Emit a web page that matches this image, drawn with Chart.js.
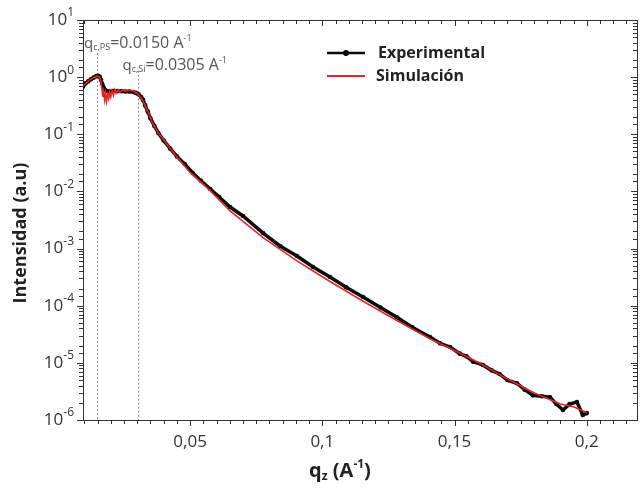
<!DOCTYPE html>
<html>
<head>
<meta charset="utf-8">
<script src="https://cdn.jsdelivr.net/npm/chart.js@4/dist/chart.umd.min.js"></script>
<style>
  html, body { margin: 0; padding: 0; background: #fff; }
  #wrap { width: 641px; height: 491px; }
</style>
</head>
<body>
<div id="wrap"><canvas id="chart" width="641" height="491"></canvas></div>
<script>
// experimental curve (q in A^-1, intensity in a.u.)
const expQ = [0.0095, 0.0105, 0.0115, 0.0125, 0.0135, 0.0145, 0.0152, 0.0158, 0.0163, 0.0168,
  0.0173, 0.0178, 0.0185, 0.0195, 0.021, 0.0225, 0.024, 0.0255, 0.027, 0.0285,
  0.0295, 0.0305, 0.0315, 0.0322, 0.033, 0.034, 0.035, 0.0365, 0.038, 0.040,
  0.0425, 0.045, 0.048, 0.051, 0.054, 0.0576, 0.061, 0.0651, 0.070, 0.0776,
  0.084, 0.0904, 0.0965, 0.1029, 0.109, 0.1154, 0.122, 0.1282, 0.134, 0.1407,
  0.1445, 0.1483, 0.152, 0.1545, 0.157, 0.1607, 0.164, 0.167, 0.170, 0.1736,
  0.1765, 0.1796, 0.183, 0.1861, 0.1885, 0.191, 0.1935, 0.1963, 0.1985, 0.2];
const expI = [0.68, 0.78, 0.85, 0.92, 0.98, 1.04, 1.06, 1.02, 0.9, 0.76,
  0.66, 0.6, 0.57, 0.56, 0.57, 0.57, 0.565, 0.56, 0.56, 0.55,
  0.53, 0.5, 0.45, 0.40, 0.32, 0.25, 0.19, 0.14, 0.105, 0.078,
  0.056, 0.041, 0.03, 0.021, 0.0155, 0.0110, 7.98e-3, 5.33e-3, 3.72e-3, 1.87e-3,
  1.11e-3, 7.4e-4, 4.75e-4, 3.18e-4, 2.1e-4, 1.42e-4, 9.3e-5, 6.3e-5, 4.2e-5, 2.83e-5,
  2.2e-5, 1.89e-5, 1.45e-5, 1.3e-5, 1.05e-5, 9.2e-6, 7.4e-6, 6.4e-6, 5.0e-6, 4.4e-6,
  3.4e-6, 2.7e-6, 2.6e-6, 2.5e-6, 1.9e-6, 1.5e-6, 1.9e-6, 2.06e-6, 1.22e-6, 1.32e-6];

// simulated curve
const simQ = [0.0095, 0.0115, 0.0135, 0.015, 0.0158, 0.0163, 0.0167, 0.017, 0.0173, 0.0177,
  0.018, 0.0184, 0.0188, 0.0192, 0.0196, 0.02, 0.0205, 0.021, 0.0215, 0.022,
  0.0228, 0.0235, 0.0245, 0.0255, 0.027, 0.0285, 0.0298, 0.0307, 0.032, 0.034,
  0.036, 0.038, 0.041, 0.045, 0.05, 0.0576, 0.065, 0.0776, 0.0904, 0.1029,
  0.1154, 0.1282, 0.1407, 0.15, 0.16, 0.17, 0.18, 0.19, 0.195, 0.2];
const simI = [0.7, 0.86, 0.98, 1.05, 1.0, 0.85, 0.6, 0.45, 0.55, 0.4,
  0.52, 0.38, 0.5, 0.42, 0.55, 0.45, 0.58, 0.48, 0.6, 0.52,
  0.6, 0.54, 0.6, 0.57, 0.6, 0.57, 0.53, 0.48, 0.4, 0.25,
  0.15, 0.105, 0.07, 0.04, 0.0215, 0.0103, 4.6e-3, 1.55e-3, 6.1e-4, 2.65e-4,
  1.2e-4, 5.5e-5, 2.65e-5, 1.65e-5, 9.6e-6, 5.2e-6, 3.0e-6, 1.9e-6, 1.7e-6, 1.35e-6];

// critical edges
const qcPS = 0.0150;
const qcSi = 0.0305;

const xMin = 0.0095, xMax = 0.219;
const xMajorTicks = [0.05, 0.1, 0.15, 0.2];
const xTickLabels = ['0,05', '0,1', '0,15', '0,2'];
const yMajorTicks = [1e-6, 1e-5, 1e-4, 1e-3, 1e-2, 1e-1, 1, 10];
const yExpLabels = ['-6', '-5', '-4', '-3', '-2', '-1', '0', '1'];

const FONT = "'Open Sans', 'Noto Sans', sans-serif";
const expColor = '#0a0a0a';
const simColor = '#e3262c';

function toPoints(xs, ys) {
  return xs.map((x, i) => ({ x: x, y: ys[i] }));
}

// text with sub/superscripts
function drawRich(ctx, parts, x, y, align) {
  let w = 0;
  parts.forEach(p => { ctx.font = p.font; w += ctx.measureText(p.t).width; });
  let cx = align === 'right' ? x - w : align === 'center' ? x - w / 2 : x;
  ctx.textAlign = 'left';
  parts.forEach(p => {
    ctx.font = p.font;
    ctx.fillText(p.t, cx, y + (p.dy || 0));
    cx += ctx.measureText(p.t).width;
  });
}

const decorPlugin = {
  id: 'decor',
  afterDraw(chart) {
    const ctx = chart.ctx;
    const xs = chart.scales.x, ys = chart.scales.y;
    const a = chart.chartArea;
    ctx.save();

    // tick marks on all four sides
    ctx.strokeStyle = '#333';
    ctx.lineWidth = 1;
    ctx.beginPath();
    xs.ticks.forEach(t => {
      const px = Math.round(xs.getPixelForValue(t.value)) + 0.5;
      const major = xMajorTicks.some(m => Math.abs(m - t.value) < 1e-9);
      const len = major ? 6 : 4;
      ctx.moveTo(px, a.bottom); ctx.lineTo(px, a.bottom + len);
      ctx.moveTo(px, a.top); ctx.lineTo(px, a.top + len);
    });
    ys.ticks.forEach(t => {
      const py = Math.round(ys.getPixelForValue(t.value)) + 0.5;
      const major = yMajorTicks.some(m => Math.abs(Math.log10(m) - Math.log10(t.value)) < 1e-6);
      const len = major ? 6 : 4;
      ctx.moveTo(a.left - len, py); ctx.lineTo(a.left, py);
      ctx.moveTo(a.right - len, py); ctx.lineTo(a.right, py);
    });
    ctx.stroke();

    // y tick labels 10^n
    ctx.fillStyle = '#333';
    ctx.textBaseline = 'middle';
    yMajorTicks.forEach((v, i) => {
      const py = ys.getPixelForValue(v);
      drawRich(ctx, [
        { t: '10', font: '17px ' + FONT },
        { t: yExpLabels[i], font: '12px ' + FONT, dy: -7 }
      ], a.left - 9, py, 'right');
    });

    // y axis title
    ctx.save();
    ctx.translate(21, 233);
    ctx.rotate(-Math.PI / 2);
    ctx.fillStyle = '#222';
    ctx.textAlign = 'center';
    ctx.textBaseline = 'middle';
    ctx.font = 'bold 18px ' + FONT;
    ctx.fillText('Intensidad (a.u)', 0, 0);
    ctx.restore();

    // x axis title
    ctx.fillStyle = '#222';
    ctx.textBaseline = 'alphabetic';
    drawRich(ctx, [
      { t: 'q', font: 'bold 20px ' + FONT },
      { t: 'z', font: 'bold 12px ' + FONT, dy: 3 },
      { t: ' (A', font: 'bold 20px ' + FONT },
      { t: '-1', font: 'bold 12px ' + FONT, dy: -9 },
      { t: ')', font: 'bold 20px ' + FONT }
    ], 340, 477, 'center');

    // annotations for the critical edges
    ctx.fillStyle = '#555';
    drawRich(ctx, [
      { t: 'q', font: '15px ' + FONT },
      { t: 'c,PS', font: '9px ' + FONT, dy: 2 },
      { t: '=0.0150 A', font: '16px ' + FONT },
      { t: '-1', font: '9px ' + FONT, dy: -7 }
    ], a.left + 1, a.top + 28, 'left');
    drawRich(ctx, [
      { t: 'q', font: '15px ' + FONT },
      { t: 'c,Si', font: '9px ' + FONT, dy: 2 },
      { t: '=0.0305 A', font: '16px ' + FONT },
      { t: '-1', font: '9px ' + FONT, dy: -7 }
    ], xs.getPixelForValue(qcSi) - 16, a.top + 50, 'left');

    // legend
    const lx = 327, lw = 38;
    const ly1 = 53, ly2 = 76;
    ctx.strokeStyle = expColor; ctx.lineWidth = 2.5;
    ctx.beginPath(); ctx.moveTo(lx, ly1); ctx.lineTo(lx + lw, ly1); ctx.stroke();
    ctx.fillStyle = expColor;
    ctx.beginPath(); ctx.arc(lx + lw / 2, ly1, 3, 0, Math.PI * 2); ctx.fill();
    ctx.strokeStyle = simColor; ctx.lineWidth = 2;
    ctx.beginPath(); ctx.moveTo(lx, ly2); ctx.lineTo(lx + lw, ly2); ctx.stroke();
    ctx.fillStyle = '#222';
    ctx.textBaseline = 'middle';
    ctx.font = 'bold 16px ' + FONT;
    ctx.fillText('Experimental', lx + lw + 13, ly1);
    ctx.fillText('Simulación', lx + lw + 11, ly2);

    ctx.restore();
  }
};

new Chart(document.getElementById('chart'), {
  type: 'scatter',
  data: {
    datasets: [
      {
        label: 'Simulación',
        data: toPoints(simQ, simI),
        showLine: true,
        borderColor: simColor,
        borderWidth: 1.6,
        pointRadius: 0,
        order: 1
      },
      {
        label: 'Experimental',
        data: toPoints(expQ, expI),
        showLine: true,
        borderColor: expColor,
        borderWidth: 3.5,
        pointRadius: 2.3,
        pointBorderWidth: 0,
        pointBackgroundColor: expColor,
        order: 2
      },
      {
        label: 'qcPS',
        data: [{ x: qcPS, y: 2.65 }, { x: qcPS, y: 1e-6 }],
        showLine: true,
        borderColor: '#888',
        borderWidth: 1,
        borderDash: [2, 2],
        pointRadius: 0,
        order: 3
      },
      {
        label: 'qcSi',
        data: [{ x: qcSi, y: 1.3 }, { x: qcSi, y: 1e-6 }],
        showLine: true,
        borderColor: '#888',
        borderWidth: 1,
        borderDash: [2, 2],
        pointRadius: 0,
        order: 3
      }
    ]
  },
  options: {
    responsive: false,
    animation: false,
    layout: { padding: 0 },
    plugins: {
      legend: { display: false },
      tooltip: { enabled: false }
    },
    scales: {
      x: {
        type: 'linear',
        position: 'bottom',
        min: xMin,
        max: xMax,
        grid: { display: false, drawTicks: false },
        border: { display: true, color: '#333', width: 1 },
        ticks: {
          stepSize: 0.005,
          includeBounds: false,
          autoSkip: false,
          maxRotation: 0,
          padding: 12,
          color: '#333',
          font: { family: FONT, size: 17 },
          callback: function (v) {
            const i = xMajorTicks.findIndex(m => Math.abs(m - v) < 1e-9);
            return i >= 0 ? xTickLabels[i] : '';
          }
        },
        afterFit: s => { s.height = 71; }
      },
      x2: {
        type: 'linear',
        position: 'top',
        min: xMin,
        max: xMax,
        grid: { display: false, drawTicks: false },
        border: { display: true, color: '#333', width: 1 },
        ticks: { display: false },
        afterFit: s => { s.height = 20; }
      },
      y: {
        type: 'logarithmic',
        position: 'left',
        min: 1e-6,
        max: 10,
        grid: { display: false, drawTicks: false },
        border: { display: true, color: '#333', width: 1 },
        ticks: { display: false, autoSkip: false },
        afterFit: s => { s.width = 83; }
      },
      y2: {
        type: 'logarithmic',
        position: 'right',
        min: 1e-6,
        max: 10,
        grid: { display: false, drawTicks: false },
        border: { display: true, color: '#333', width: 1 },
        ticks: { display: false },
        afterFit: s => { s.width = 4; }
      }
    }
  },
  plugins: [decorPlugin]
});
</script>
</body>
</html>
